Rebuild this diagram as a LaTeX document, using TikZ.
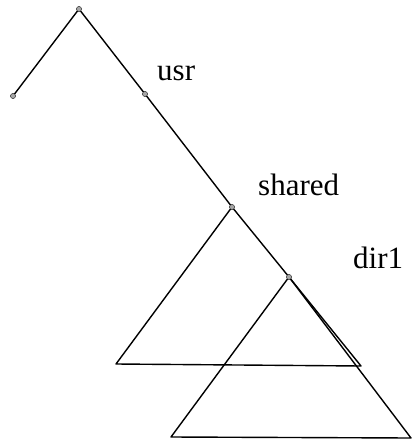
\documentclass[tikz,border=0pt]{standalone}
\usepackage{fontspec}
\setmainfont{Liberation Serif}
\begin{document}
\begin{tikzpicture}[x=1pt,y=-1pt,
  dot/.style={circle,fill=gray!70,draw=gray!40!black,line width=0.4pt,inner sep=0pt,minimum size=5pt},
  lbl/.style={anchor=base west,inner sep=0pt,font=\fontsize{31}{33}\selectfont},
  edge/.style={line width=1.4pt,line join=round}]
\useasboundingbox (0,0) rectangle (413,444);
\node[dot] (top) at (79,9) {};
\node[dot] (left) at (13,96) {};
\node[dot] (usr) at (145,94) {};
\node[dot] (shared) at (232,207) {};
\node[dot] (dir1) at (289,277) {};
\coordinate (sl) at (116,364);
\coordinate (sr) at (361,366);
\coordinate (dl) at (171,437);
\coordinate (dr) at (411,438);
\draw[edge] (top.center) -- (left.center);
\draw[edge] (top.center) -- (usr.center) -- (shared.center) -- (dir1.center) -- (sr) -- (sl) -- (shared.center);
\draw[edge] (dir1.center) -- (dl) -- (dr) -- (dir1.center);
\foreach \n in {top,left,usr,shared,dir1} \node[dot] at (\n) {};
\node[lbl] (tusr) at (157,80) {usr};
\node[lbl] (tshared) at (258,195) {shared};
\node[lbl] (tdir) at (353,268) {dir1};
\end{tikzpicture}
\end{document}
